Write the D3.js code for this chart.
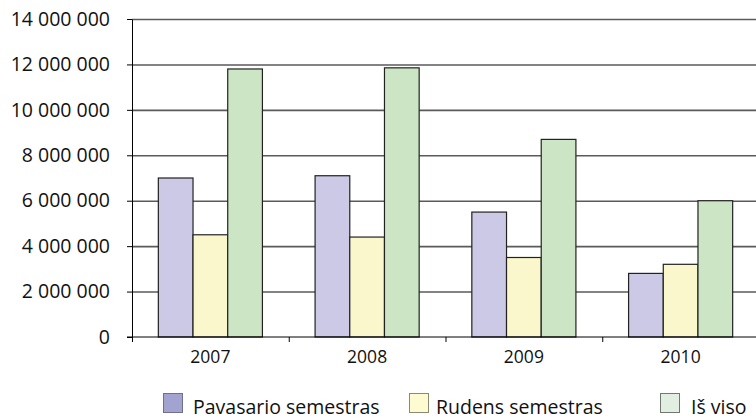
<!DOCTYPE html>
<html>
<head>
<meta charset="utf-8">
<script src="https://cdn.jsdelivr.net/npm/d3@7"></script>
<style>
  body { margin: 0; background: #fff; overflow: hidden; }
  text { font-family: 'Open Sans', 'Noto Sans', sans-serif; fill: #111; }
  .grid line { stroke: #5a5a5a; stroke-width: 1.6; }
  .grid path { display: none; }
  .axis path, .axis line { stroke: #000; }
</style>
</head>
<body>
<div id="chart"></div>
<script>
const years = ['2007', '2008', '2009', '2010']
const seriesNames = ['Pavasario semestras', 'Rudens semestras', 'Iš viso']
const spring = [7000000, 7100000, 5500000, 2800000]
const autumn = [4500000, 4400000, 3500000, 3200000]
const total = [11800000, 11850000, 8700000, 6000000]
const yTicks = [0, 2000000, 4000000, 6000000, 8000000, 10000000, 12000000, 14000000]

const barColors = ['#cbc9e5', '#faf7cd', '#cce5c4']
const swatchColors = ['#a3a3cf', '#fffbd0', '#e2eee2']
const swatchStroke = ['#6f6f90', '#8a8a70', '#6f7a6f']

const width = 756
const height = 417
const margin = { top: 19, right: -3, bottom: 80, left: 132 }
const innerWidth = width - margin.left - margin.right
const innerHeight = height - margin.top - margin.bottom

const svg = d3.select('#chart')
  .append('svg')
  .attr('width', width)
  .attr('height', height)
  .style('display', 'block')

const g = svg.append('g')
  .attr('transform', `translate(${margin.left}, ${margin.top})`)

// Scales
const xScale = d3.scaleBand().domain(years).range([0, innerWidth]).paddingInner(0).paddingOuter(0)
const xSub = d3.scaleBand().domain(d3.range(3))
  .range([xScale.bandwidth() * 0.168, xScale.bandwidth() * 0.832])
const yScale = d3.scaleLinear().domain([0, 14000000]).range([innerHeight, 0])

const fmt = (v) => d3.format(',')(v).replace(/,/g, ' ')

// Gridlines
g.append('g')
  .attr('class', 'grid')
  .call(d3.axisLeft(yScale).tickValues(yTicks.slice(1)).tickSize(-innerWidth).tickFormat(''))
  .selectAll('text').remove()

// Bars
const rows = years.map((y, i) => ({ year: y, values: [spring[i], autumn[i], total[i]] }))

g.selectAll('.group')
  .data(rows)
  .enter()
  .append('g')
  .attr('transform', d => `translate(${xScale(d.year)}, 0)`)
  .selectAll('rect')
  .data(d => d.values.map((v, k) => ({ k, v })))
  .enter()
  .append('rect')
  .attr('x', d => xSub(d.k))
  .attr('y', d => yScale(d.v))
  .attr('width', xSub.bandwidth())
  .attr('height', d => innerHeight - yScale(d.v))
  .attr('fill', d => barColors[d.k])
  .attr('stroke', '#222')
  .attr('stroke-width', 1.2)

// Left axis
const yAxis = g.append('g')
  .attr('class', 'axis')
  .call(d3.axisLeft(yScale).tickValues(yTicks).tickSize(5).tickSizeOuter(0).tickPadding(17).tickFormat(fmt))
yAxis.selectAll('text').style('font-size', '19.5px')

// Bottom axis
const xAxis = g.append('g')
  .attr('class', 'axis')
  .attr('transform', `translate(0, ${innerHeight})`)
  .call(d3.axisBottom(xScale).tickSize(0).tickPadding(14))
xAxis.select('.domain').attr('d', `M-5,0H${innerWidth}`)
xAxis.selectAll('text').style('font-size', '17.5px')

// Category separator ticks
g.append('g')
  .selectAll('line')
  .data(years)
  .enter()
  .append('line')
  .attr('x1', d => xScale(d) + 0.5)
  .attr('x2', d => xScale(d) + 0.5)
  .attr('y1', innerHeight)
  .attr('y2', innerHeight + 5)
  .attr('stroke', '#000')

// Legend
const legendX = [163, 409, 660]
const legendTextX = [30, 27, 31]
const legend = svg.append('g')
  .selectAll('g')
  .data(seriesNames)
  .enter()
  .append('g')
  .attr('transform', (d, i) => `translate(${legendX[i]}, 393)`)

legend.append('rect')
  .attr('x', 0.5)
  .attr('y', 0.5)
  .attr('width', 19)
  .attr('height', 19)
  .attr('fill', (d, i) => swatchColors[i])
  .attr('stroke', (d, i) => swatchStroke[i])

legend.append('text')
  .attr('x', (d, i) => legendTextX[i])
  .attr('y', 20.5)
  .style('font-size', '19.5px')
  .text(d => d)
</script>
</body>
</html>
